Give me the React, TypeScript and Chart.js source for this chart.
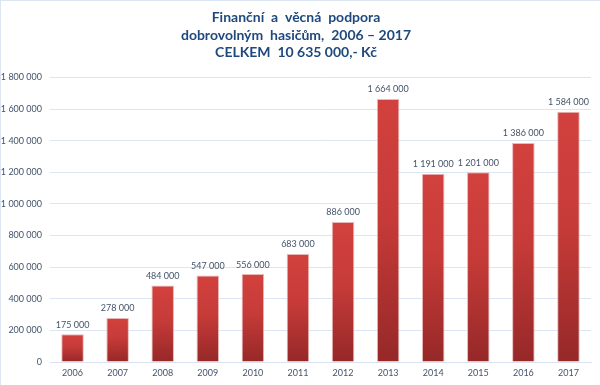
import React, { useEffect, useRef } from "react";
import { Chart, registerables } from "chart.js";

Chart.register(...registerables);

const categories = ["2006", "2007", "2008", "2009", "2010", "2011", "2012", "2013", "2014", "2015", "2016", "2017"];
const values = [175000, 278000, 484000, 547000, 556000, 683000, 886000, 1664000, 1191000, 1201000, 1386000, 1584000];
const titleLines = ["Finanční  a  věcná  podpora", "dobrovolným  hasičům,  2006 – 2017", "CELKEM  10 635 000,- Kč"];
const yMax = 1800000;
const yStep = 200000;

const FONT = "Lato, 'Open Sans', sans-serif";
const TEXT = "#44546A";

function fmt(v: number): string {
  return String(Math.round(v)).replace(/\B(?=(\d{3})+(?!\d))/g, " ");
}

const labelPlugin = {
  id: "barLabels",
  afterDatasetsDraw(chart: any) {
    const ctx = chart.ctx;
    const meta = chart.getDatasetMeta(0);
    ctx.save();
    ctx.font = `9px ${FONT}`;
    ctx.fillStyle = TEXT;
    ctx.textAlign = "center";
    ctx.textBaseline = "bottom";
    meta.data.forEach((bar: any, i: number) => {
      ctx.fillText(fmt(values[i]), bar.x, bar.y - 5);
    });
    ctx.restore();
  },
};

export default function App() {
  const ref = useRef<HTMLCanvasElement>(null);
  useEffect(() => {
    document.body.style.margin = "0";
    const chart = new Chart(ref.current!, {
      type: "bar",
      data: {
        labels: categories,
        datasets: [
          {
            data: values,
            backgroundColor: (c: any) => {
              const chart = c.chart;
              const ys = chart.scales?.y;
              if (!ys || c.type !== "data") return "#C13936";
              const top = ys.getPixelForValue(c.parsed.y);
              const base = ys.getPixelForValue(0);
              if (!isFinite(top) || !isFinite(base) || top === base) return "#C13936";
              const g = chart.ctx.createLinearGradient(0, top, 0, base);
              g.addColorStop(0, "#D2413E");
              g.addColorStop(0.45, "#C63B38");
              g.addColorStop(1, "#962828");
              return g;
            },
            borderColor: "#EAB8B6",
            borderWidth: 1,
            barPercentage: 0.5,
            categoryPercentage: 1,
          },
        ],
      },
      options: {
        animation: false,
        responsive: false,
        maintainAspectRatio: false,
        layout: { padding: { left: 0, right: 9, top: 0, bottom: 0 } },
        plugins: {
          legend: { display: false },
          tooltip: { enabled: false },
          title: {
            display: true,
            text: titleLines,
            color: "#1F497D",
            font: { family: FONT, size: 14, weight: "bold", lineHeight: 1.25 },
            padding: { top: 8, bottom: 16 },
          },
        },
        scales: {
          x: {
            grid: { display: false, drawTicks: false },
            border: { display: true, color: "#D9E2EE", width: 1 },
            ticks: { color: TEXT, font: { family: FONT, size: 9 }, padding: 6, maxRotation: 0 },
            afterFit: (s: any) => {
              s.height = 23;
            },
          },
          y: {
            min: 0,
            max: yMax,
            grid: { color: "#DCE6F2", drawTicks: false },
            border: { display: false },
            ticks: {
              stepSize: yStep,
              color: TEXT,
              font: { family: FONT, size: 9 },
              padding: 8,
              callback: (v: any) => fmt(Number(v)),
            },
            afterFit: (s: any) => {
              s.width = 49;
            },
          },
        },
      },
      plugins: [labelPlugin],
    });
    return () => chart.destroy();
  }, []);
  return (
    <div style={{ width: 600, height: 385, position: "relative", boxSizing: "border-box", borderTop: "1px solid #DCE6F2", borderLeft: "1px solid #DCE6F2", background: "#fff" }}>
      <canvas ref={ref} width={599} height={384} style={{ display: "block" }} />
    </div>
  );
}
